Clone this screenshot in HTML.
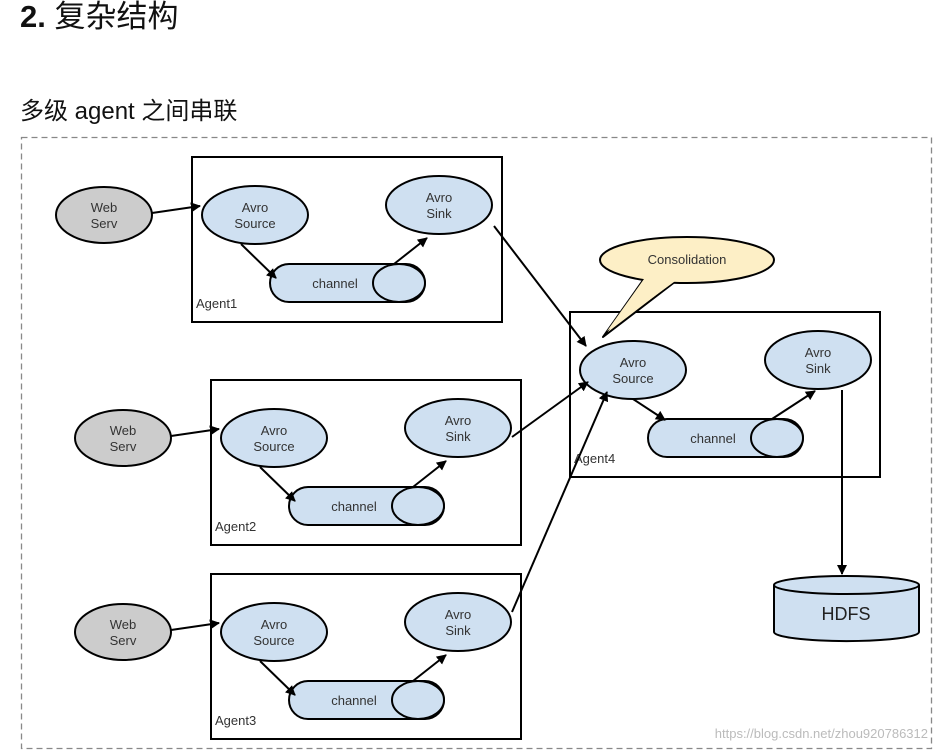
<!DOCTYPE html>
<html><head><meta charset="utf-8"><style>
body{margin:0;background:#fff;width:937px;height:750px;overflow:hidden;position:relative;font-family:"Liberation Sans","Noto Sans CJK SC",sans-serif}
.h{position:absolute;left:20px;top:-9px;font-size:31px;color:#111;white-space:nowrap}
.s{position:absolute;left:20px;top:91px;font-size:24px;color:#111;white-space:nowrap}
svg{position:absolute;left:0;top:0}
svg text{font-family:"Liberation Sans",sans-serif;font-size:13px;fill:#333;text-anchor:middle}
</style></head><body>
<div class="h"><b>2.</b> 复杂结构</div>
<div class="s">多级 agent 之间串联</div>
<svg width="937" height="750">
<defs><marker id="a" markerWidth="10" markerHeight="10" refX="9" refY="5" orient="auto" markerUnits="userSpaceOnUse"><path d="M0,0L10,5L0,10z" fill="#000"/></marker>
<g id="ag">
<rect x="192" y="157" width="310" height="165" fill="none" stroke="#000" stroke-width="2"/>
<ellipse cx="104" cy="215" rx="48" ry="28" fill="#ccc" stroke="#000" stroke-width="2"/>
<text x="104" y="212">Web</text><text x="104" y="228">Serv</text>
<line x1="152" y1="213" x2="200" y2="206" stroke="#000" stroke-width="2" marker-end="url(#a)"/>
<ellipse cx="255" cy="215" rx="53" ry="29" fill="#cfe0f1" stroke="#000" stroke-width="2"/>
<text x="255" y="212">Avro</text><text x="255" y="228">Source</text>
<ellipse cx="439" cy="205" rx="53" ry="29" fill="#cfe0f1" stroke="#000" stroke-width="2"/>
<text x="439" y="202">Avro</text><text x="439" y="218">Sink</text>
<rect x="270" y="264" width="155" height="38" rx="19" fill="#cfe0f1" stroke="#000" stroke-width="2"/>
<ellipse cx="399" cy="283" rx="26" ry="19" fill="#cfe0f1" stroke="#000" stroke-width="2"/>
<text x="335" y="288">channel</text>
<line x1="241" y1="244" x2="276" y2="278" stroke="#000" stroke-width="2" marker-end="url(#a)"/>
<line x1="394" y1="264" x2="427" y2="238" stroke="#000" stroke-width="2" marker-end="url(#a)"/>
</g></defs>
<rect x="21.5" y="137.5" width="910" height="611" fill="none" stroke="#888" stroke-width="1.3" stroke-dasharray="6,4"/>
<use href="#ag"/>
<text x="196" y="308" style="text-anchor:start">Agent1</text>
<g transform="translate(19,223)"><use href="#ag"/><text x="196" y="308" style="text-anchor:start">Agent2</text></g>
<g transform="translate(19,417)"><use href="#ag"/><text x="196" y="308" style="text-anchor:start">Agent3</text></g>
<!-- Agent4 -->
<rect x="570" y="312" width="310" height="165" fill="none" stroke="#000" stroke-width="2"/>
<ellipse cx="633" cy="370" rx="53" ry="29" fill="#cfe0f1" stroke="#000" stroke-width="2"/>
<text x="633" y="367">Avro</text><text x="633" y="383">Source</text>
<ellipse cx="818" cy="360" rx="53" ry="29" fill="#cfe0f1" stroke="#000" stroke-width="2"/>
<text x="818" y="357">Avro</text><text x="818" y="373">Sink</text>
<rect x="648" y="419" width="155" height="38" rx="19" fill="#cfe0f1" stroke="#000" stroke-width="2"/>
<ellipse cx="777" cy="438" rx="26" ry="19" fill="#cfe0f1" stroke="#000" stroke-width="2"/>
<text x="713" y="443">channel</text>
<text x="574" y="463" style="text-anchor:start">Agent4</text>
<line x1="633" y1="399" x2="665" y2="420" stroke="#000" stroke-width="2" marker-end="url(#a)"/>
<line x1="772" y1="419" x2="815" y2="391" stroke="#000" stroke-width="2" marker-end="url(#a)"/>
<line x1="494" y1="226" x2="586" y2="346" stroke="#000" stroke-width="2" marker-end="url(#a)"/>
<line x1="512" y1="437" x2="588" y2="382" stroke="#000" stroke-width="2" marker-end="url(#a)"/>
<line x1="512" y1="612" x2="607" y2="392" stroke="#000" stroke-width="2" marker-end="url(#a)"/>
<!-- callout -->
<path d="M646,276 L603,337 L680,278 Z" fill="#fdefc6" stroke="#000" stroke-width="2" stroke-linejoin="round"/>
<ellipse cx="687" cy="260" rx="87" ry="23" fill="#fdefc6" stroke="#000" stroke-width="2"/>
<path d="M644,279 L607,331 L678,279 Z" fill="#fdefc6"/>
<text x="687" y="264">Consolidation</text>
<!-- HDFS -->
<line x1="842" y1="390" x2="842" y2="574" stroke="#000" stroke-width="2" marker-end="url(#a)"/>
<path d="M774,585 L774,632 A72,9 0 0 0 919,632 L919,585" fill="#cfe0f1" stroke="#000" stroke-width="2"/>
<ellipse cx="846.5" cy="585" rx="72.5" ry="9" fill="#cfe0f1" stroke="#000" stroke-width="2"/>
<text x="846" y="620" style="font-size:18px;fill:#222">HDFS</text>
<text x="928" y="738" style="text-anchor:end;font-size:13px;fill:#bbb">https://blog.csdn.net/zhou920786312</text>
</svg>
</body></html>
